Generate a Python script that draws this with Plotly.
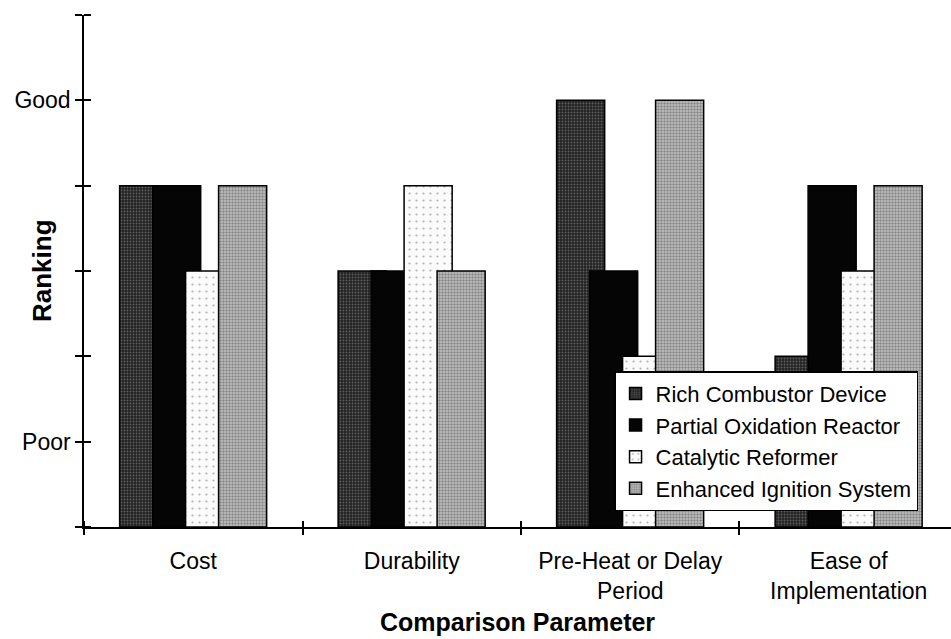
import plotly.graph_objects as go

# Comparison parameters on the x axis
categories = ["Cost", "Durability", "Pre-Heat or Delay<br>Period", "Ease of<br>Implementation"]

# Ranking of each technology (1 = Poor, 5 = Good)
rich_combustor = [4, 3, 5, 2]
partial_oxidation = [4, 3, 3, 4]
catalytic_reformer = [3, 4, 2, 3]
enhanced_ignition = [4, 3, 5, 4]

y_tickvals = [0, 1, 2, 3, 4, 5, 6]
y_ticktext = ["", "Poor", "", "", "", "Good", ""]

FONT = "Liberation Sans, Arial, Helvetica, sans-serif"
X_RANGE = [-0.5, 3.468]
Y_RANGE = [0, 6]

PLOT_W = 951 - 84
PLOT_H = 639 - 15 - 112
TICK = 7  # half-length of the crossing tick marks, px

BAR_W = 0.22
STEP = 0.151
START = -0.337

series = [
    ("Rich Combustor Device", rich_combustor,
     dict(color="#2a2a2a", pattern=dict(shape=".", bgcolor="#222222", fgcolor="#9c9c9c",
                                        size=3, solidity=0.3))),
    ("Partial Oxidation Reactor", partial_oxidation,
     dict(color="#050505")),
    ("Catalytic Reformer", catalytic_reformer,
     dict(color="white", pattern=dict(shape=".", bgcolor="#fbfbfb", fgcolor="#6a6a6a",
                                      size=7, solidity=0.08))),
    ("Enhanced Ignition System", enhanced_ignition,
     dict(color="#9a9a9a", pattern=dict(shape=".", bgcolor="#c4c4c4", fgcolor="#4a4a4a",
                                        size=3, solidity=0.5))),
]

fig = go.Figure()
for i, (name, vals, mk) in enumerate(series):
    mk = dict(mk)
    mk["line"] = dict(color="black", width=1.5)
    fig.add_trace(go.Bar(
        x=categories, y=vals, name=name,
        offset=START + i * STEP, width=BAR_W,
        marker=mk,
    ))

tick_common = dict(showticklabels=False, showgrid=False, zeroline=False, showline=False,
                   tickcolor="black", tickwidth=1.5, ticklen=TICK, ticks="outside")
bounds = [-0.5, 0.5, 1.5, 2.5, 3.5]

fig.update_layout(
    barmode="overlay",
    width=951, height=639,
    margin=dict(l=84, r=0, t=15, b=112, autoexpand=False),
    paper_bgcolor="white", plot_bgcolor="white",
    font=dict(family=FONT, size=23, color="black"),
    xaxis=dict(type="category", range=X_RANGE, showline=True, linecolor="black",
               linewidth=1.5, ticks="", showgrid=False, zeroline=False,
               tickfont=dict(size=23), ticklabelstandoff=13, automargin=False),
    # tick marks below the x axis line
    xaxis2=dict(overlaying="x", anchor="y", range=X_RANGE, tickmode="array",
                tickvals=bounds, **tick_common),
    # tick marks above the x axis line (a free axis sitting TICK px higher)
    xaxis3=dict(overlaying="x", anchor="free", position=TICK / PLOT_H, range=X_RANGE,
                tickmode="array", tickvals=bounds, **tick_common),
    yaxis=dict(range=Y_RANGE, tickmode="array", tickvals=y_tickvals, ticktext=y_ticktext,
               ticks="outside", ticklen=TICK, tickcolor="black", tickwidth=1.5,
               showline=True, linecolor="black", linewidth=1.5, showgrid=False,
               zeroline=False, tickfont=dict(size=23), automargin=False),
    # tick marks right of the y axis line
    yaxis2=dict(overlaying="y", anchor="free", position=TICK / PLOT_W, range=Y_RANGE,
                tickmode="array", tickvals=y_tickvals, **tick_common),
    legend=dict(x=0.962, y=0.031, xanchor="right", yanchor="bottom",
                bgcolor="white", bordercolor="black", borderwidth=1.5,
                font=dict(size=22), itemwidth=30, tracegroupgap=0),
    showlegend=True,
    annotations=[
        dict(text="<b>Comparison Parameter</b>", xref="paper", yref="paper",
             x=0.5, y=-0.1855, xanchor="center", yanchor="middle", showarrow=False,
             font=dict(size=25)),
        dict(text="<b>Ranking</b>", xref="paper", yref="paper",
             x=-0.0484, y=0.5, xanchor="center", yanchor="middle", showarrow=False,
             textangle=-90, font=dict(size=26)),
    ],
)

# empty helper traces so the tick-only axes are drawn
fig.add_trace(go.Scatter(x=[None], y=[None], xaxis="x2", yaxis="y", showlegend=False,
                         hoverinfo="skip"))
fig.add_trace(go.Scatter(x=[None], y=[None], xaxis="x3", yaxis="y2", showlegend=False,
                         hoverinfo="skip"))

fig.write_html("out.html")
